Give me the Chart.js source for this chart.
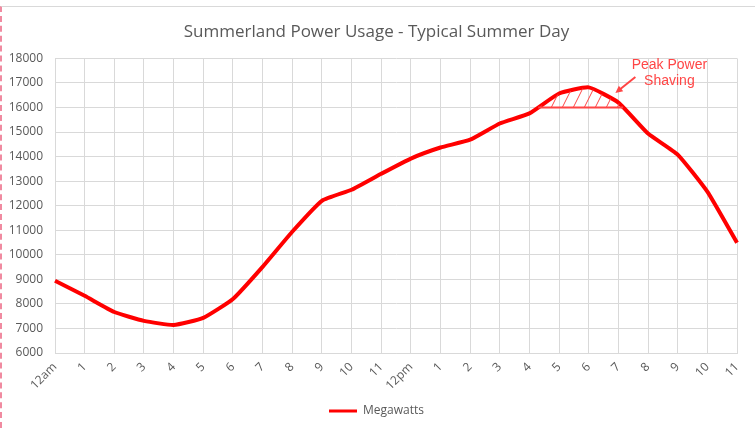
<!DOCTYPE html>
<html>
<head>
<meta charset="utf-8">
<script src="https://cdn.jsdelivr.net/npm/chart.js@4"></script>
<style>
  html, body { margin: 0; padding: 0; background: #fff; }
  body { width: 755px; height: 428px; overflow: hidden; position: relative; }
  #frame { position: absolute; left: 0; top: 6px; width: 755px; height: 422px;
           border-top: 1px solid #d9d9d9; border-left: 2px dashed #f08aa0; box-sizing: border-box; }
  #wrap { position: absolute; left: 0; top: 0; width: 755px; height: 428px; }
</style>
</head>
<body>
<div id="frame"></div>
<div id="wrap"><canvas id="chartPower" width="755" height="428"></canvas></div>
<script>
// dados
const hours = ['12am','1','2','3','4','5','6','7','8','9','10','11',
               '12pm','1','2','3','4','5','6','7','8','9','10','11'];
const megawatts = [8940, 8330, 7670, 7310, 7140, 7430, 8200, 9510, 10940, 12200, 12650, 13300,
                   13920, 14370, 14690, 15350, 15760, 16570, 16820, 16200, 14940, 14080, 12570, 10490];
const yTicks = [6000, 7000, 8000, 9000, 10000, 11000, 12000, 13000, 14000, 15000, 16000, 17000, 18000];
const shavingLevel = 16000;
const noteLines = ['Peak Power', 'Shaving'];

const RED = '#ff0000';
const NOTE_RED = '#ff4545';
const GRAY = '#595959';

function hatchPattern(c){
  const p = document.createElement('canvas');
  p.width = 11; p.height = 22;
  const g = p.getContext('2d');
  g.strokeStyle = NOTE_RED;
  g.lineWidth = 1;
  g.beginPath();
  g.moveTo(-1, 24); g.lineTo(12, -2);
  g.stroke();
  return c.createPattern(p, 'repeat');
}

// zona de corte de pico: hachura entre a linha e o nivel, mais a nota com seta
const peakShaving = {
  id: 'peakShaving',
  afterDatasetsDraw(chart){
    const c = chart.ctx;
    const xs = chart.scales.x, ys = chart.scales.y;
    const pts = chart.getDatasetMeta(0).data;
    const yLevel = ys.getPixelForValue(shavingLevel);

    // pontos onde a linha cruza o nivel
    let x0 = null, x1 = null;
    for (let i = 1; i < megawatts.length; i++){
      const a = megawatts[i-1], b = megawatts[i];
      if (a < shavingLevel && b >= shavingLevel && x0 === null){
        const t = (shavingLevel - a) / (b - a);
        x0 = pts[i-1].x + t * (pts[i].x - pts[i-1].x);
      }
      if (a >= shavingLevel && b < shavingLevel){
        const t = (a - shavingLevel) / (a - b);
        x1 = pts[i-1].x + t * (pts[i].x - pts[i-1].x);
      }
    }
    if (x0 === null || x1 === null) return;

    c.save();
    c.beginPath();
    c.rect(x0, chart.chartArea.top, x1 - x0, yLevel - chart.chartArea.top);
    c.clip();
    c.beginPath();
    c.moveTo(pts[0].x, yLevel);
    pts.forEach(p => c.lineTo(p.x, p.y));
    c.lineTo(pts[pts.length-1].x, yLevel);
    c.closePath();
    c.fillStyle = hatchPattern(c);
    c.fill();
    c.restore();

    c.save();
    c.strokeStyle = NOTE_RED;
    c.lineWidth = 2;
    c.beginPath();
    c.moveTo(x0, yLevel); c.lineTo(x1, yLevel);
    c.stroke();

    // nota
    const ax = xs.getPixelForValue(19);
    const tx = ax + 51, ty = ys.getPixelForValue(17000) - 18;
    c.fillStyle = NOTE_RED;
    c.font = '14px "Liberation Sans", Arial, sans-serif';
    c.textAlign = 'center';
    c.textBaseline = 'middle';
    c.fillText(noteLines[0], tx, ty);
    c.fillText(noteLines[1], tx, ty + 16);

    // seta
    const sx = ax + 17, sy = ty + 12, ex = ax - 3, ey = ty + 28;
    const ang = Math.atan2(ey - sy, ex - sx);
    c.lineWidth = 2;
    c.beginPath();
    c.moveTo(sx, sy); c.lineTo(ex - 4*Math.cos(ang), ey - 4*Math.sin(ang));
    c.stroke();
    c.beginPath();
    c.moveTo(ex, ey);
    c.lineTo(ex - 8*Math.cos(ang - 0.45), ey - 8*Math.sin(ang - 0.45));
    c.lineTo(ex - 8*Math.cos(ang + 0.45), ey - 8*Math.sin(ang + 0.45));
    c.closePath();
    c.fill();
    c.restore();
  }
};

const ctx = document.getElementById('chartPower').getContext('2d');
new Chart(ctx, {
  type: 'line',
  data: {
    labels: hours,
    datasets: [{
      label: 'Megawatts',
      data: megawatts,
      borderColor: RED,
      backgroundColor: RED,
      borderWidth: 4,
      pointRadius: 0,
      tension: 0.15,
      fill: false
    }]
  },
  options: {
    responsive: false,
    animation: false,
    devicePixelRatio: 1,
    layout: { padding: { left: 6, right: 8, top: 10, bottom: 1 } },
    scales: {
      x: {
        offset: false,
        afterFit: s => { s.height = 38; },
        grid: { color: '#d9d9d9', drawTicks: false },
        border: { color: '#d9d9d9' },
        ticks: {
          color: GRAY,
          font: { family: '"Open Sans", sans-serif', size: 12 },
          maxRotation: 45, minRotation: 45,
          autoSkip: false,
          padding: 7
        }
      },
      y: {
        min: 6000, max: 18000,
        afterBuildTicks: s => { s.ticks = yTicks.map(v => ({ value: v })); },
        afterFit: s => { s.width = 49; },
        grid: { color: '#d9d9d9', drawTicks: false },
        border: { color: '#d9d9d9' },
        ticks: {
          color: GRAY,
          font: { family: '"Open Sans", sans-serif', size: 12 },
          padding: 12,
          callback: v => String(v)
        }
      },
      // eixo vazio so para deixar a margem da direita
      yRight: {
        position: 'right',
        afterFit: s => { s.width = 10; },
        grid: { display: false },
        border: { display: false },
        ticks: { display: false }
      }
    },
    plugins: {
      title: {
        display: true,
        text: 'Summerland Power Usage - Typical Summer Day',
        color: GRAY,
        font: { family: '"Open Sans", sans-serif', size: 17, weight: 'normal' },
        padding: { top: 12, bottom: 16 }
      },
      legend: {
        position: 'bottom',
        labels: {
          color: GRAY,
          font: { family: '"Open Sans", sans-serif', size: 12 },
          boxWidth: 28,
          boxHeight: 3,
          padding: 14,
          generateLabels: chart =>
            Chart.defaults.plugins.legend.labels.generateLabels(chart).map(l => ({ ...l, lineWidth: 0 }))
        }
      },
      tooltip: { enabled: false }
    }
  },
  plugins: [peakShaving]
});
</script>
</body>
</html>
